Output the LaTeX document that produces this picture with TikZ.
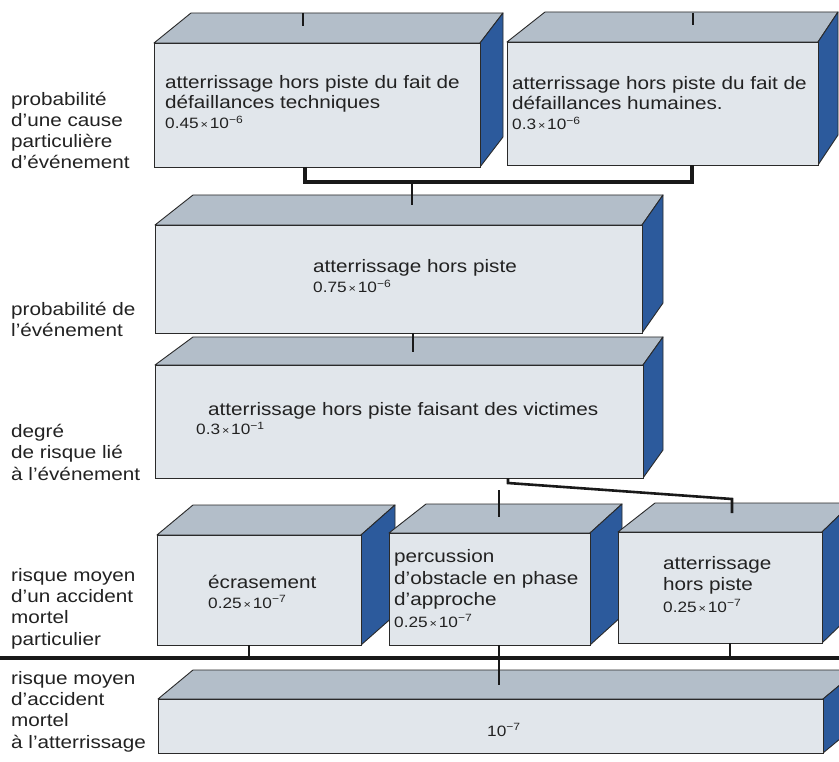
\documentclass[tikz,border=0pt]{standalone}
\usepackage{fontspec}
\setmainfont[FakeStretch=1.15]{Liberation Sans}
\usetikzlibrary{calc}
\definecolor{frontc}{HTML}{E1E6EB}
\definecolor{topc}{HTML}{B3BEC9}
\definecolor{sidec}{HTML}{2C5A9C}
\definecolor{edgec}{HTML}{2A2A2A}
\definecolor{txtc}{HTML}{222222}
\newcommand{\sci}[2]{{\fontsize{15}{18}\selectfont #1{\fontsize{11}{11}\selectfont\,×\,}10\raisebox{5.5pt}{\fontsize{10.5}{10}\selectfont −#2}}}
\newcommand{\cube}[8]{%
  \filldraw[fill=topc, draw=edgec, line width=0.9pt, line join=round]
    (#2,#3) -- (#2+#6,#3-#8) -- (#4+#7,#3-#8) -- (#4,#3) -- cycle;
  \filldraw[fill=sidec, draw=edgec, line width=0.9pt, line join=round]
    (#4,#3) -- (#4+#7,#3-#8) -- (#4+#7,#5-#8) -- (#4,#5) -- cycle;
  \node[draw=edgec, fill=frontc, line width=0.9pt, inner sep=0, outer sep=0,
        anchor=north west, minimum width={(#4-#2)*1pt}, minimum height={(#5-#3)*1pt}]
        (#1) at (#2,#3) {};%
}
\tikzset{
  conn/.style={draw=black!90, line width=2.6pt},
  thick conn/.style={draw=black!90, line width=3.4pt},
  boxtext/.style={anchor=base west, align=left, inner sep=0, text=txtc,
                  font=\fontsize{18}{20}\selectfont},
  sidelabel/.style={anchor=base west, align=left, inner sep=0, text=txtc,
                  font=\fontsize{18}{21.3}\selectfont}
}
\begin{document}
\begin{tikzpicture}[x=1pt, y=-1pt]
\useasboundingbox (0,0) rectangle (839,762);
\clip (0,0) rectangle (839,762);
\fill[white] (0,0) rectangle (839,762);

% boxes
\cube{b1}{154}{43}{480}{167}{37}{23}{30}
\cube{b2}{507}{42}{818}{165}{38}{20}{30}
\cube{b3}{155}{225}{642}{333}{38}{21}{30}
\cube{b4}{155}{365}{643}{478}{38}{20}{28}
\cube{b5}{157}{535}{361}{645}{36}{34}{30}
\cube{b6}{389}{533}{590}{645}{37}{32}{29}
\cube{b7}{618}{532}{822}{643}{37}{30}{29}
\cube{b8}{158}{699}{823}{753}{35}{35}{29}

% connector coordinates
\coordinate (k1a) at (303,13); \coordinate (k1b) at (303,26);
\coordinate (k2a) at (693,13); \coordinate (k2b) at (693,25);
\coordinate (j1) at (412,182); \coordinate (b3in) at (412,205);
\coordinate (b4in) at (413,352);
\coordinate (d1) at (508,483); \coordinate (d2) at (732,499); \coordinate (b7in) at (732,513);
\coordinate (m1) at (499,490); \coordinate (b6in) at (499,517);
\coordinate (hl) at (0,658); \coordinate (hr) at (839,658);
\coordinate (b8in) at (499,685);

\draw[conn] (k1a) -- (k1b);
\draw[conn] (k2a) -- (k2b);
\draw[thick conn, line join=miter] (305,0 |- b1.south) |- (j1) -| (692,0 |- b2.south);
\draw[conn] (j1) -- (b3in);
\draw[conn] (413,0 |- b3.south) -- (b4in);
\draw[conn, line join=miter] (508,0 |- b4.south) -- (d1) -- (d2) -- (b7in);
\draw[conn] (m1) -- (b6in);
\draw[conn] (249,0 |- b5.south) -- (249,0 |- hl);
\draw[conn] (499,0 |- b6.south) -- (499,0 |- hl);
\draw[conn] (730,0 |- b7.south) -- (730,0 |- hl);
\draw[thick conn] (hl) -- (hr);
\draw[conn] (499,0 |- hl) -- (b8in);

% box texts (anchor = baseline of last line)
\node[boxtext] (x1) at (165,129) {atterrissage hors piste du fait de\\défaillances techniques\\\sci{0.45}{6}};
\node[boxtext] (x2) at (512,130) {atterrissage hors piste du fait de\\défaillances humaines.\\\sci{0.3}{6}};
\node[boxtext] (x3) at (313,293) {atterrissage hors piste\\\sci{0.75}{6}};
\node[boxtext] (x4) at (196,435) {\hspace*{12pt}atterrissage hors piste faisant des victimes\\\sci{0.3}{1}};
\node[boxtext] (x5) at (208,608) {écrasement\\\sci{0.25}{7}};
\node[boxtext, font=\fontsize{18}{21.5}\selectfont] (x6) at (394,627) {percussion\\d'obstacle en phase\\d'approche\\\sci{0.25}{7}};
\node[boxtext, font=\fontsize{18}{21.5}\selectfont] (x7) at (663,612) {atterrissage\\hors piste\\\sci{0.25}{7}};
\node[boxtext] (x8) at (487,736) {{\fontsize{15}{18}\selectfont 10\raisebox{5.5pt}{\fontsize{10.5}{10}\selectfont −7}}};

% side labels
\node[sidelabel] (l1) at (11,169) {probabilité\\d'une cause\\particulière\\d'événement};
\node[sidelabel] (l2) at (11,337) {probabilité de\\l'événement};
\node[sidelabel] (l3) at (11,480) {degré\\de risque lié\\à l'événement};
\node[sidelabel] (l4) at (11,645) {risque moyen\\d'un accident\\mortel\\particulier};
\node[sidelabel] (l5) at (11,748) {risque moyen\\d'accident\\mortel\\à l'atterrissage};
\end{tikzpicture}
\end{document}
